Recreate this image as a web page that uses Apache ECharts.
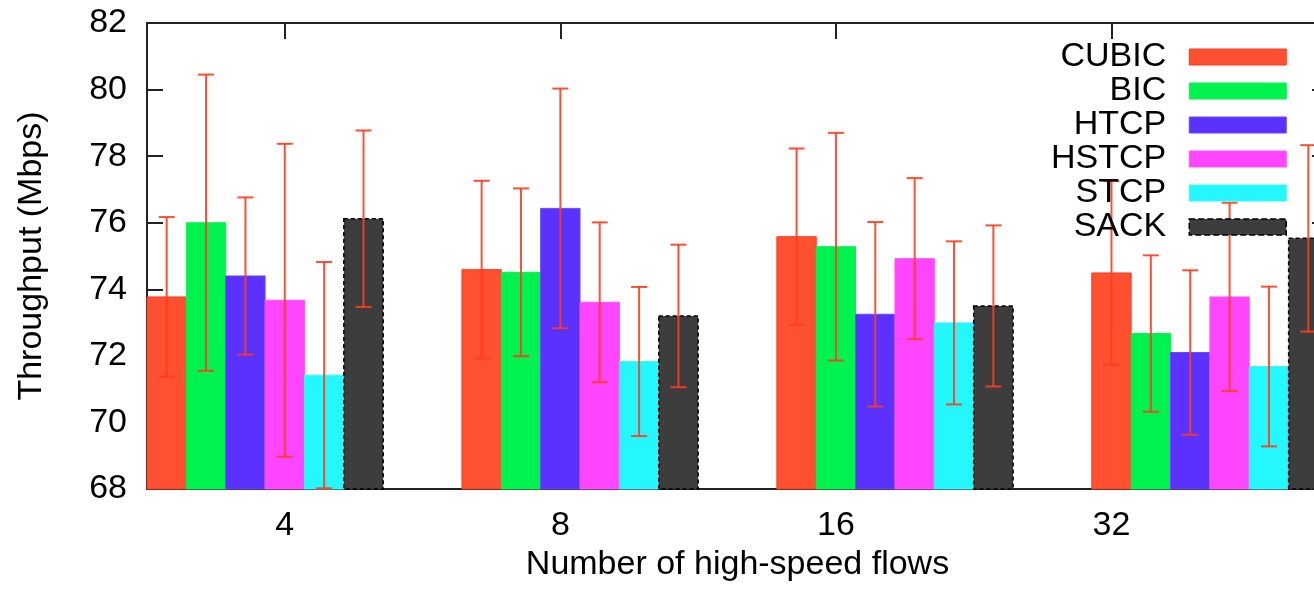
<!DOCTYPE html>
<html>
<head>
<meta charset="utf-8">
<title>Throughput vs number of high-speed flows</title>
<script src="https://cdn.jsdelivr.net/npm/echarts@6/dist/echarts.min.js"></script>
<style>
  html, body { margin: 0; padding: 0; background: #ffffff; }
  #chart { width: 1314px; height: 591px; }
</style>
</head>
<body>
<div id="chart"></div>
<script>
// Flow counts on the x axis
const categories = ['4', '8', '16', '32'];
const protocols = ['CUBIC', 'BIC', 'HTCP', 'HSTCP', 'STCP', 'SACK'];

// Mean throughput (Mbps) per flow count
const cubic = [73.77, 74.59, 75.58, 74.49];
const bic   = [76.00, 74.51, 75.28, 72.67];
const htcp  = [74.40, 76.43, 73.25, 72.10];
const hstcp = [73.67, 73.61, 74.92, 73.77];
const stcp  = [71.42, 71.83, 72.99, 71.68];
const sack  = [76.12, 73.20, 73.50, 75.53];

// Error bar half-widths (Mbps)
const cubicErr = [2.40, 2.67, 2.65, 2.76];
const bicErr   = [4.45, 2.52, 3.42, 2.35];
const htcpErr  = [2.36, 3.60, 2.77, 2.47];
const hstcpErr = [4.70, 2.40, 2.42, 2.83];
const stcpErr  = [3.40, 2.24, 2.45, 2.40];
const sackErr  = [2.65, 2.14, 2.42, 2.80];

// Y axis tick values
const yTicks = [68, 70, 72, 74, 76, 78, 80, 82];

const means = [cubic, bic, htcp, hstcp, stcp, sack];
const errs = [cubicErr, bicErr, htcpErr, hstcpErr, stcpErr, sackErr];

const colors = ['#ff5032', '#00f24e', '#5b31fe', '#ff45fd', '#25f7ff', '#3d3d3d'];
const borders = ['#ff3a1c', '#10ee50', '#6a48ff', '#ff55ff', '#40f4ff', '#000000'];
const ERR_COLOR = '#ff3c1e';
const FONT = 'Liberation Sans, Arial, Helvetica, sans-serif';

// x axis is measured in bar widths: each cluster holds 6 bars plus a gap of 2,
// the flow-count tics are spaced 7 bar widths apart.
const CLUSTER = 8;
const TIC_STEP = 7;
const TIC_START = 3.5;
const X_MAX = 30;
const Y_MIN = yTicks[0], Y_MAX = yTicks[yTicks.length - 1];

const ticPos = categories.map((c, i) => TIC_START + i * TIC_STEP);
function ticLabel(v) {
  const i = ticPos.findIndex(p => Math.abs(p - v) < 1e-6);
  return i >= 0 ? categories[i] : '';
}

function makeRender(k) {
  return function (params, api) {
    const g = api.value(0), v = api.value(1), e = api.value(2);
    const x0 = g * CLUSTER + k;
    const tl = api.coord([x0, v]);
    const br = api.coord([x0 + 1, Y_MIN]);
    const w = br[0] - tl[0];
    const cx = tl[0] + w / 2;
    const hi = api.coord([x0 + 0.5, v + e])[1];
    const lo = api.coord([x0 + 0.5, v - e])[1];
    const cap = 8;
    const errStyle = { stroke: ERR_COLOR, lineWidth: 2, opacity: 0.9 };
    return {
      type: 'group',
      children: [
        {
          type: 'rect',
          shape: { x: tl[0], y: tl[1], width: w, height: br[1] - tl[1] },
          style: {
            fill: colors[k],
            stroke: borders[k],
            lineWidth: k === 5 ? 1.5 : 1,
            lineDash: k === 5 ? [4, 3] : null
          }
        },
        { type: 'line', shape: { x1: cx, y1: hi, x2: cx, y2: lo }, style: errStyle },
        { type: 'line', shape: { x1: cx - cap, y1: hi, x2: cx + cap, y2: hi }, style: errStyle },
        { type: 'line', shape: { x1: cx - cap, y1: lo, x2: cx + cap, y2: lo }, style: errStyle }
      ]
    };
  };
}

const series = protocols.map((name, k) => ({
  name: name,
  type: 'custom',
  xAxisIndex: 0,
  yAxisIndex: 0,
  renderItem: makeRender(k),
  encode: { x: 0, y: 1 },
  clip: false,
  itemStyle: {
    color: colors[k],
    borderColor: borders[k],
    borderWidth: k === 5 ? 1.5 : 1,
    borderType: k === 5 ? 'dashed' : 'solid'
  },
  data: categories.map((c, g) => [g, means[k][g], errs[k][g]]),
  z: 2
}));

const axisLineStyle = { color: '#222', width: 2 };
const labelStyle = { color: '#000', fontSize: 34, fontFamily: FONT };

const option = {
  animation: false,
  backgroundColor: '#ffffff',
  grid: {
    left: 147, right: -14, top: 23, bottom: 102,
    containLabel: false,
    outerBoundsMode: 'none'
  },
  legend: {
    data: protocols.map((name, k) => ({
      name: name,
      icon: 'rect',
      itemStyle: {
        color: colors[k],
        borderColor: borders[k],
        borderWidth: k === 5 ? 1.5 : 1,
        borderType: k === 5 ? 'dashed' : 'solid'
      }
    })),
    orient: 'vertical',
    align: 'right',
    right: 27,
    top: 40,
    padding: 0,
    itemWidth: 97,
    itemHeight: 16,
    itemGap: 0,
    selectedMode: false,
    textStyle: {
      color: '#000',
      fontSize: 34,
      fontFamily: FONT,
      padding: [0, 18, 0, 0]
    }
  },
  xAxis: [
    {
      type: 'value',
      position: 'bottom',
      min: 0,
      max: X_MAX,
      name: 'Number of high-speed flows',
      nameLocation: 'middle',
      nameGap: 58,
      nameTextStyle: labelStyle,
      axisLine: { show: true, onZero: false, lineStyle: axisLineStyle },
      axisTick: { show: true, inside: true, length: 16, customValues: ticPos, lineStyle: { color: '#222', width: 2 } },
      axisLabel: { show: true, customValues: ticPos, formatter: ticLabel, margin: 20, ...labelStyle },
      splitLine: { show: false }
    },
    {
      type: 'value',
      position: 'top',
      min: 0,
      max: X_MAX,
      axisLine: { show: true, onZero: false, lineStyle: axisLineStyle },
      axisTick: { show: true, inside: true, length: 16, customValues: ticPos, lineStyle: { color: '#222', width: 2 } },
      axisLabel: { show: false },
      splitLine: { show: false }
    }
  ],
  yAxis: [
    {
      type: 'value',
      position: 'left',
      min: Y_MIN,
      max: Y_MAX,
      interval: 2,
      name: 'Throughput (Mbps)',
      nameLocation: 'middle',
      nameGap: 98,
      nameRotate: 90,
      nameTextStyle: labelStyle,
      axisLine: { show: true, onZero: false, lineStyle: axisLineStyle },
      axisTick: { show: true, inside: true, length: 16, lineStyle: { color: '#222', width: 2 } },
      axisLabel: { show: true, margin: 20, ...labelStyle },
      splitLine: { show: false }
    },
    {
      type: 'value',
      position: 'right',
      min: Y_MIN,
      max: Y_MAX,
      interval: 2,
      axisLine: { show: true, onZero: false, lineStyle: axisLineStyle },
      axisTick: { show: true, inside: true, length: 16, lineStyle: { color: '#222', width: 2 } },
      axisLabel: { show: false },
      splitLine: { show: false }
    }
  ],
  series: series
};

const chart = echarts.init(document.getElementById('chart'), null, { renderer: 'canvas' });
chart.setOption(option);
</script>
</body>
</html>
